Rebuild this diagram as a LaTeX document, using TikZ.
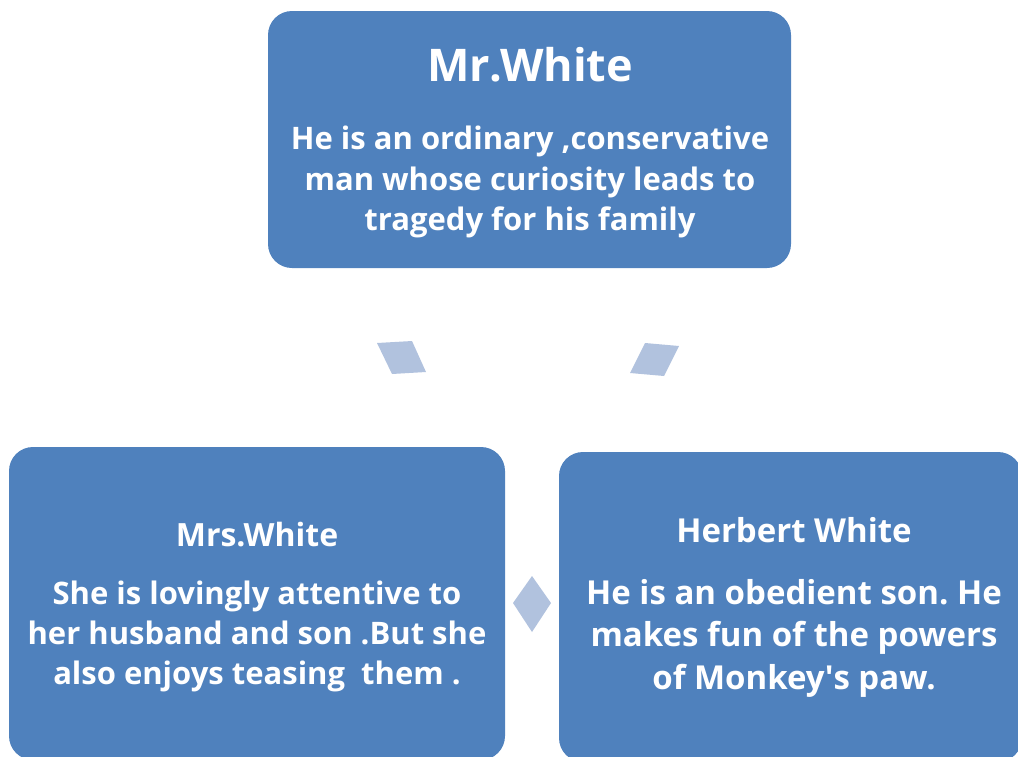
\documentclass[tikz,border=0pt]{standalone}
\usepackage{fontspec}
\setmainfont{Open Sans}
\definecolor{boxblue}{HTML}{4F81BD}
\definecolor{linkblue}{HTML}{B1C2DE}
\frenchspacing
\begin{document}
\begin{tikzpicture}[x=1pt,y=-1pt,
  box/.style={fill=boxblue, rounded corners=24pt, inner sep=0pt},
  title/.style={text=white, font=\bfseries\fontsize{#1}{#1}\selectfont, anchor=base, inner sep=0pt},
  body/.style 2 args={text=white, font=\bfseries\fontsize{#1}{#2}\selectfont, align=center, anchor=center, inner sep=0pt},
  link/.style={fill=linkblue}]
\useasboundingbox (0,0) rectangle (1018,756);

% boxes
\node[box, minimum width=523pt, minimum height=257pt] (mr) at (529.5,139.5) {};
\node[box, minimum width=496pt, minimum height=313pt] (mrs) at (257,603.5) {};
\node[box, minimum width=463pt, minimum height=310pt] (herbert) at (790.5,607) {};

% texts
\node[title=45] (mrT) at (530,81) {Mr.White};
\node[body={31}{40.5}] (mrB) at (530,182) {He is an ordinary ,conservative\\man whose curiosity leads to\\tragedy for his family};

\node[title=32] (mrsT) at (257,546) {Mrs.White};
\node[body={31}{40}] (mrsB) at (257,636) {She is lovingly attentive to\\her husband and son .But she\\also enjoys teasing\ \ them .};

\node[title=33] (herbertT) at (794,542) {Herbert White};
\node[body={33}{42.5}] (herbertB) at (794,638) {He is an obedient son. He\\makes fun of the powers\\of Monkey\textquotesingle s paw.};

% connector marks
\fill[link] (377,343) -- (412,341) -- (426,372) -- (392,374) -- cycle;
\fill[link] (645,343) -- (679,346) -- (664,376) -- (630,373) -- cycle;
\fill[link] (532,576) -- (551,603) -- (532,632) -- (513,603) -- cycle;
\end{tikzpicture}
\end{document}
